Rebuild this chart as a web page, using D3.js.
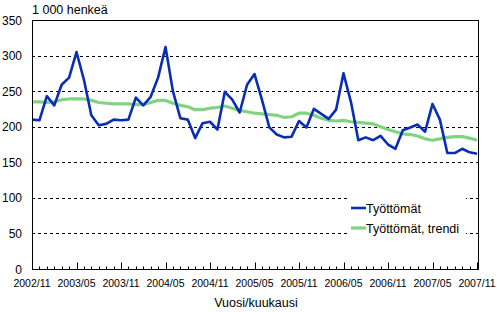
<!DOCTYPE html>
<html>
<head>
<meta charset="utf-8">
<script src="https://cdn.jsdelivr.net/npm/d3@7"></script>
<style>
    body { margin: 0; background: #fff; }
    svg text { font-family: "Liberation Sans", Arial, sans-serif; fill: #000; }
    .grid line { stroke: #000; stroke-dasharray: 3,3; stroke-width: 1; }
    .frame { fill: none; stroke: #000; stroke-width: 1; }
    .lineTotal { fill: none; stroke: #0a2db5; stroke-width: 2.6; stroke-linejoin: round; }
    .lineTrend { fill: none; stroke: #80d480; stroke-width: 3.2; stroke-linejoin: round; }
</style>
</head>
<body>
<div id="chart"></div>
<script>
// Months 2002/11 .. 2007/11
const months = [];
for (let i = 0; i < 61; i++) {
    const t = 2002 * 12 + 10 + i;
    months.push(`${Math.floor(t / 12)}/${String(t % 12 + 1).padStart(2, '0')}`);
}

// Työttömät (1 000 henkeä)
const unemployed = [
    210, 209, 243, 230, 259, 269, 305, 266, 216, 202,
    204, 210, 209, 210, 241, 230, 242, 269, 312, 250,
    212, 210, 184, 205, 207, 196, 249, 238, 220, 259,
    274, 238, 199, 189, 185, 186, 208, 199, 225, 218,
    211, 224, 275, 235, 181, 185, 181, 187, 175, 169,
    195, 199, 203, 193, 232, 210, 163, 163, 169, 164, 162
];

// Työttömät, trendi
const trend = [
    235, 235, 234, 235, 238, 239, 239, 239, 237, 234,
    233, 232, 232, 232, 231, 231, 234, 237, 237, 233,
    230, 228, 224, 224, 226, 227, 229, 226, 223, 221,
    219, 218, 217, 216, 213, 214, 219, 219, 216, 212,
    209, 208, 209, 207, 206, 205, 204, 200, 196, 193,
    190, 189, 187, 183, 181, 183, 185, 186, 186, 184, 181
];

const yTicks = [0, 50, 100, 150, 200, 250, 300, 350];
const seriesNames = ['Työttömät', 'Työttömät, trendi'];

const width = 497, height = 312;
const plotLeft = 32, plotRight = 478, plotTop = 20, plotBottom = 269;

const svg = d3.select('#chart').append('svg').attr('width', width).attr('height', height);

const x = d3.scaleLinear().domain([0, months.length - 1]).range([plotLeft, 477]);
const y = d3.scaleLinear().domain([0, 350]).range([plotBottom, plotTop]);

// gridlines
svg.append('g').classed('grid', true).selectAll('line')
    .data(yTicks.filter(d => d > 0 && d < 350)).join('line')
    .attr('x1', plotLeft).attr('x2', plotRight)
    .attr('y1', d => Math.round(y(d)) + 0.5).attr('y2', d => Math.round(y(d)) + 0.5);

// y labels
svg.append('g').selectAll('text').data(yTicks).join('text')
    .attr('x', 22).attr('y', d => y(d) + 4.5)
    .attr('text-anchor', 'end').style('font-size', '12px')
    .text(d => d);

// legend background (hides gridlines behind it)
svg.append('rect').attr('x', 347).attr('y', 195).attr('width', 119).attr('height', 44).attr('fill', '#fff');

// lines
const line = d3.line().x((d, i) => x(i)).y(d => y(d));
svg.append('path').datum(trend).attr('class', 'lineTrend').attr('d', line);
svg.append('path').datum(unemployed).attr('class', 'lineTotal').attr('d', line);

// frame
svg.append('rect').attr('class', 'frame')
    .attr('x', plotLeft + 0.5).attr('y', plotTop + 0.5)
    .attr('width', plotRight - plotLeft).attr('height', plotBottom - plotTop);

// x ticks (inside, pointing up)
const ticks = svg.append('g');
months.forEach((m, i) => {
    const major = i % 6 === 0;
    const tx = Math.round(x(i)) + 0.5;
    ticks.append('line').attr('x1', tx).attr('x2', tx)
        .attr('y1', plotBottom + 0.5).attr('y2', plotBottom + 0.5 - (major ? 7 : 3))
        .attr('stroke', '#000');
    if (major) {
        ticks.append('text').attr('x', x(i)).attr('y', 287)
            .attr('text-anchor', 'middle').style('font-size', '10.5px')
            .text(m);
    }
});

// titles
svg.append('text').attr('x', 32).attr('y', 14).style('font-size', '12.5px').text('1 000 henkeä');
svg.append('text').attr('x', 256).attr('y', 307).attr('text-anchor', 'middle')
    .style('font-size', '12.5px').text('Vuosi/kuukausi');

// legend
const legend = svg.append('g');
const legendClasses = ['lineTotal', 'lineTrend'];
seriesNames.forEach((name, i) => {
    const ly = 208 + i * 20;
    legend.append('line').attr('class', legendClasses[i])
        .attr('x1', 351).attr('x2', 366).attr('y1', ly).attr('y2', ly);
    legend.append('text').attr('x', 366).attr('y', ly + 5)
        .style('font-size', '12.5px').text(name);
});
</script>
</body>
</html>
